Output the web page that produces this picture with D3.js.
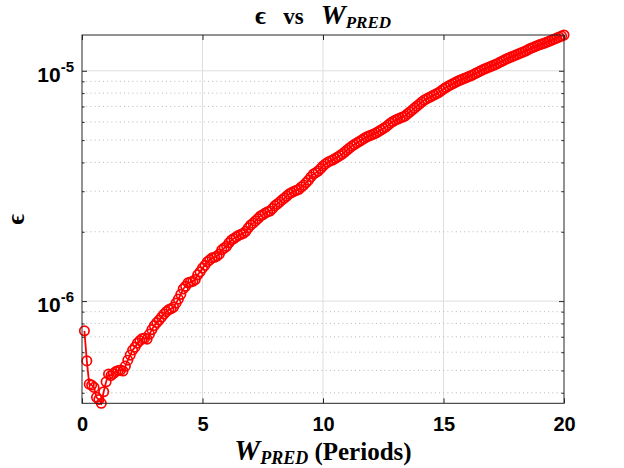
<!DOCTYPE html>
<html>
<head>
<meta charset="utf-8">
<script src="https://cdn.jsdelivr.net/npm/d3@7"></script>
<style>
  body { margin: 0; background: #fff; }
  svg { display: block; }
  text { white-space: pre; }
</style>
</head>
<body>
<svg id="chart" width="624" height="468"></svg>
<script>
// epsilon vs W_PRED, log y axis, MATLAB-style box + grid
// ------------------------------------------------------------------

// Data -------------------------------------------------------------
const wPred = [
  0.1, 0.2, 0.3, 0.4, 0.5, 0.6, 0.7, 0.8, 0.9, 1.0,
  1.1, 1.2, 1.3, 1.4, 1.5, 1.6, 1.7, 1.8, 1.9, 2.0,
  2.1, 2.2, 2.3, 2.4, 2.5, 2.6, 2.7, 2.8, 2.9, 3.0,
  3.1, 3.2, 3.3, 3.4, 3.5, 3.6, 3.7, 3.8, 3.9, 4.0,
  4.1, 4.2, 4.3, 4.4, 4.5, 4.6, 4.7, 4.8, 4.9, 5.0,
  5.1, 5.2, 5.3, 5.4, 5.5, 5.6, 5.7, 5.8, 5.9, 6.0,
  6.1, 6.2, 6.3, 6.4, 6.5, 6.6, 6.7, 6.8, 6.9, 7.0,
  7.1, 7.2, 7.3, 7.4, 7.5, 7.6, 7.7, 7.8, 7.9, 8.0,
  8.1, 8.2, 8.3, 8.4, 8.5, 8.6, 8.7, 8.8, 8.9, 9.0,
  9.1, 9.2, 9.3, 9.4, 9.5, 9.6, 9.7, 9.8, 9.9, 10.0,
  10.1, 10.2, 10.3, 10.4, 10.5, 10.6, 10.7, 10.8, 10.9, 11.0,
  11.1, 11.2, 11.3, 11.4, 11.5, 11.6, 11.7, 11.8, 11.9, 12.0,
  12.1, 12.2, 12.3, 12.4, 12.5, 12.6, 12.7, 12.8, 12.9, 13.0,
  13.1, 13.2, 13.3, 13.4, 13.5, 13.6, 13.7, 13.8, 13.9, 14.0,
  14.1, 14.2, 14.3, 14.4, 14.5, 14.6, 14.7, 14.8, 14.9, 15.0,
  15.1, 15.2, 15.3, 15.4, 15.5, 15.6, 15.7, 15.8, 15.9, 16.0,
  16.1, 16.2, 16.3, 16.4, 16.5, 16.6, 16.7, 16.8, 16.9, 17.0,
  17.1, 17.2, 17.3, 17.4, 17.5, 17.6, 17.7, 17.8, 17.9, 18.0,
  18.1, 18.2, 18.3, 18.4, 18.5, 18.6, 18.7, 18.8, 18.9, 19.0,
  19.1, 19.2, 19.3, 19.4, 19.5, 19.6, 19.7, 19.8, 19.9, 20.0
];

const eps = [
  7.43e-7, 5.50e-7, 4.36e-7, 4.32e-7, 4.22e-7, 3.82e-7, 3.74e-7, 3.60e-7, 4.04e-7, 4.46e-7,
  4.82e-7, 4.75e-7, 4.85e-7, 4.94e-7, 5.00e-7, 5.02e-7, 4.97e-7, 5.22e-7, 5.54e-7, 5.83e-7,
  6.13e-7, 6.31e-7, 6.57e-7, 6.74e-7, 6.87e-7, 6.91e-7, 6.84e-7, 7.19e-7, 7.52e-7, 7.83e-7,
  8.07e-7, 8.27e-7, 8.52e-7, 8.78e-7, 9.00e-7, 9.19e-7, 9.28e-7, 9.42e-7, 9.80e-7, 1.02e-6,
  1.07e-6, 1.13e-6, 1.16e-6, 1.20e-6, 1.21e-6, 1.22e-6, 1.24e-6, 1.30e-6, 1.34e-6, 1.39e-6,
  1.43e-6, 1.48e-6, 1.51e-6, 1.54e-6, 1.55e-6, 1.57e-6, 1.60e-6, 1.67e-6, 1.70e-6, 1.73e-6,
  1.79e-6, 1.84e-6, 1.87e-6, 1.90e-6, 1.93e-6, 1.95e-6, 1.97e-6, 2.01e-6, 2.08e-6, 2.14e-6,
  2.18e-6, 2.23e-6, 2.28e-6, 2.34e-6, 2.37e-6, 2.41e-6, 2.44e-6, 2.46e-6, 2.52e-6, 2.59e-6,
  2.64e-6, 2.69e-6, 2.75e-6, 2.80e-6, 2.86e-6, 2.92e-6, 2.96e-6, 3.00e-6, 3.03e-6, 3.06e-6,
  3.13e-6, 3.19e-6, 3.27e-6, 3.35e-6, 3.46e-6, 3.56e-6, 3.61e-6, 3.67e-6, 3.76e-6, 3.86e-6,
  3.94e-6, 4.01e-6, 4.06e-6, 4.10e-6, 4.16e-6, 4.22e-6, 4.28e-6, 4.35e-6, 4.44e-6, 4.53e-6,
  4.62e-6, 4.71e-6, 4.78e-6, 4.86e-6, 4.93e-6, 5.00e-6, 5.08e-6, 5.16e-6, 5.21e-6, 5.26e-6,
  5.31e-6, 5.37e-6, 5.45e-6, 5.53e-6, 5.61e-6, 5.70e-6, 5.81e-6, 5.93e-6, 6.02e-6, 6.11e-6,
  6.17e-6, 6.23e-6, 6.30e-6, 6.36e-6, 6.49e-6, 6.62e-6, 6.75e-6, 6.89e-6, 7.03e-6, 7.17e-6,
  7.32e-6, 7.46e-6, 7.55e-6, 7.65e-6, 7.74e-6, 7.85e-6, 7.94e-6, 8.04e-6, 8.18e-6, 8.33e-6,
  8.46e-6, 8.58e-6, 8.69e-6, 8.80e-6, 8.91e-6, 9.03e-6, 9.12e-6, 9.21e-6, 9.30e-6, 9.39e-6,
  9.49e-6, 9.58e-6, 9.70e-6, 9.83e-6, 9.94e-6, 1.007e-5, 1.018e-5, 1.028e-5, 1.038e-5, 1.049e-5,
  1.059e-5, 1.070e-5, 1.083e-5, 1.097e-5, 1.110e-5, 1.125e-5, 1.136e-5, 1.147e-5, 1.159e-5, 1.170e-5,
  1.182e-5, 1.194e-5, 1.206e-5, 1.218e-5, 1.233e-5, 1.249e-5, 1.262e-5, 1.274e-5, 1.287e-5, 1.300e-5,
  1.309e-5, 1.320e-5, 1.333e-5, 1.346e-5, 1.360e-5, 1.374e-5, 1.387e-5, 1.401e-5, 1.415e-5, 1.430e-5
];

// Tick values ------------------------------------------------------
const xTicks      = [0, 5, 10, 15, 20];
const yMajor      = [1e-6, 1e-5];
const yMajorExp   = ["-6", "-5"];
const yMinor      = [4e-7, 5e-7, 6e-7, 7e-7, 8e-7, 9e-7,
                     2e-6, 3e-6, 4e-6, 5e-6, 6e-6, 7e-6, 8e-6, 9e-6];

// Layout -----------------------------------------------------------
const box = { left: 82, right: 564, top: 35, bottom: 403.3 };
const axisColor = "#262626";
const sansBold  = "'Liberation Sans', Arial, Helvetica, sans-serif";
const serif     = "'Liberation Serif', 'DejaVu Serif', 'Times New Roman', serif";

const svg = d3.select("#chart");

// Scales -----------------------------------------------------------
const x = d3.scaleLinear().domain([0, 20]).range([box.left, box.right]);
const y = d3.scaleLog()
  .domain([d3.min(eps), d3.max(eps)])
  .range([box.bottom, box.top]);

const pts = wPred.map((w, i) => ({ w, e: eps[i] }));

// Grid -------------------------------------------------------------
const grid = svg.append("g").attr("class", "grid");

grid.selectAll("line.vx")
  .data(xTicks.slice(1, -1))
  .join("line")
    .attr("x1", d => x(d)).attr("x2", d => x(d))
    .attr("y1", box.top).attr("y2", box.bottom)
    .attr("stroke", "#dedede").attr("stroke-width", 1);

grid.selectAll("line.minor")
  .data(yMinor)
  .join("line")
    .attr("x1", box.left).attr("x2", box.right)
    .attr("y1", d => y(d)).attr("y2", d => y(d))
    .attr("stroke", "#b8b8b8").attr("stroke-width", 1)
    .attr("stroke-dasharray", "1,3.2");

grid.selectAll("line.major")
  .data(yMajor)
  .join("line")
    .attr("x1", box.left).attr("x2", box.right)
    .attr("y1", d => y(d)).attr("y2", d => y(d))
    .attr("stroke", "#dedede").attr("stroke-width", 1);

// Series -----------------------------------------------------------
svg.append("path")
  .datum(pts)
  .attr("fill", "none")
  .attr("stroke", "#ff0000")
  .attr("stroke-width", 1.8)
  .attr("d", d3.line().x(d => x(d.w)).y(d => y(d.e)));

svg.append("g")
  .selectAll("circle")
  .data(pts)
  .join("circle")
    .attr("cx", d => x(d.w))
    .attr("cy", d => y(d.e))
    .attr("r", 4.7)
    .attr("fill", "none")
    .attr("stroke", "#ff0000")
    .attr("stroke-width", 1.7);

// Axes -------------------------------------------------------------
const styleAxis = g => {
  g.select(".domain").remove();
  g.selectAll(".tick line").attr("stroke", axisColor);
};

// bottom / top x ticks (inside)
svg.append("g")
  .attr("transform", `translate(0,${box.bottom})`)
  .call(d3.axisBottom(x).tickValues(xTicks).tickSize(-5).tickPadding(14))
  .call(styleAxis)
  .call(g => g.selectAll(".tick text")
    .attr("fill", "#000")
    .style("font-family", sansBold)
    .style("font-weight", "bold")
    .style("font-size", "20px"));

svg.append("g")
  .attr("transform", `translate(0,${box.top})`)
  .call(d3.axisTop(x).tickValues(xTicks).tickSize(-5).tickFormat(""))
  .call(styleAxis);

// left / right y ticks, major + minor
svg.append("g")
  .attr("transform", `translate(${box.left},0)`)
  .call(d3.axisLeft(y).tickValues(yMajor).tickSize(-5).tickFormat(""))
  .call(styleAxis);
svg.append("g")
  .attr("transform", `translate(${box.left},0)`)
  .call(d3.axisLeft(y).tickValues(yMinor).tickSize(-2.6).tickFormat(""))
  .call(styleAxis);
svg.append("g")
  .attr("transform", `translate(${box.right},0)`)
  .call(d3.axisRight(y).tickValues(yMajor).tickSize(-5).tickFormat(""))
  .call(styleAxis);
svg.append("g")
  .attr("transform", `translate(${box.right},0)`)
  .call(d3.axisRight(y).tickValues(yMinor).tickSize(-2.6).tickFormat(""))
  .call(styleAxis);

// y tick labels 10^n
const yLab = svg.append("g")
  .selectAll("text")
  .data(yMajor)
  .join("text")
    .attr("x", box.left - 8)
    .attr("y", d => y(d) + 11)
    .attr("text-anchor", "end")
    .style("font-family", sansBold)
    .style("font-weight", "bold")
    .style("font-size", "21px");
yLab.append("tspan").text("10");
yLab.append("tspan")
  .attr("dy", -10)
  .style("font-size", "15px")
  .text((d, i) => yMajorExp[i]);

// box
svg.append("rect")
  .attr("x", box.left).attr("y", box.top)
  .attr("width", box.right - box.left)
  .attr("height", box.bottom - box.top)
  .attr("fill", "none")
  .attr("stroke", axisColor)
  .attr("stroke-width", 1);

// Titles -----------------------------------------------------------
const cx = (box.left + box.right) / 2;

const title = svg.append("text")
  .attr("x", cx).attr("y", 24)
  .attr("text-anchor", "middle")
  .style("font-family", serif)
  .style("font-weight", "bold")
  .style("font-size", "23px");
title.append("tspan").style("font-size", "26px").text("\u03F5");
title.append("tspan").text("   vs   ");
title.append("tspan").style("font-style", "italic").style("font-size", "28px").text("W");
title.append("tspan").style("font-style", "italic").style("font-size", "17px")
  .attr("dy", 4).text("PRED");

const xLabel = svg.append("text")
  .attr("x", cx).attr("y", 460)
  .attr("text-anchor", "middle")
  .style("font-family", serif)
  .style("font-weight", "bold")
  .style("font-size", "25px");
xLabel.append("tspan").style("font-style", "italic").style("font-size", "29px").text("W");
xLabel.append("tspan").style("font-style", "italic").style("font-size", "18px")
  .attr("dy", 4).text("PRED");
xLabel.append("tspan").attr("dy", -4).text(" (Periods)");

svg.append("text")
  .attr("transform", `translate(24,${(box.top + box.bottom) / 2}) rotate(-90)`)
  .attr("text-anchor", "middle")
  .style("font-family", serif)
  .style("font-weight", "bold")
  .style("font-size", "25px")
  .text("\u03F5");
</script>
</body>
</html>
